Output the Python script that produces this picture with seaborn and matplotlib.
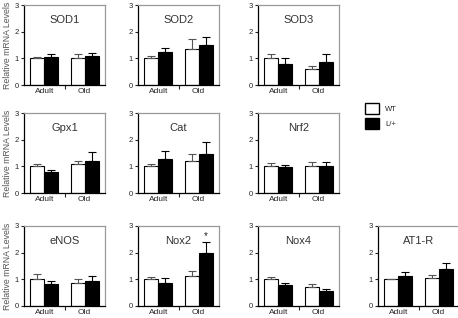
import matplotlib
matplotlib.use("Agg")
import matplotlib.pyplot as plt
import numpy as np
import pandas as pd
import seaborn as sns
from matplotlib.patches import Patch

sns.set_theme(style="white")
plt.rcParams["font.family"] = ["Liberation Sans", "DejaVu Sans"]

# ---- data ------------------------------------------------------------------
genes = ["SOD1", "SOD2", "SOD3", "Gpx1", "Cat", "Nrf2", "eNOS", "Nox2", "Nox4", "AT1-R"]
ages = ["Adult", "Old"]
genotypes = ["WT", "L/+"]

# mean per gene: [WT adult, L/+ adult, WT old, L/+ old]
means = {
    "SOD1": [1.00, 1.05, 1.00, 1.07],
    "SOD2": [1.00, 1.22, 1.35, 1.50],
    "SOD3": [1.00, 0.80, 0.60, 0.85],
    "Gpx1": [1.00, 0.77, 1.07, 1.20],
    "Cat": [1.00, 1.27, 1.20, 1.48],
    "Nrf2": [1.00, 0.98, 1.02, 1.02],
    "eNOS": [1.00, 0.82, 0.87, 0.95],
    "Nox2": [1.00, 0.88, 1.12, 2.00],
    "Nox4": [1.00, 0.77, 0.70, 0.58],
    "AT1-R": [1.00, 1.13, 1.05, 1.38],
}
errs = {
    "SOD1": [0.05, 0.12, 0.15, 0.12],
    "SOD2": [0.10, 0.18, 0.37, 0.30],
    "SOD3": [0.15, 0.20, 0.12, 0.32],
    "Gpx1": [0.10, 0.10, 0.13, 0.32],
    "Cat": [0.10, 0.32, 0.27, 0.45],
    "Nrf2": [0.12, 0.06, 0.15, 0.13],
    "eNOS": [0.20, 0.12, 0.13, 0.17],
    "Nox2": [0.08, 0.17, 0.20, 0.40],
    "Nox4": [0.10, 0.08, 0.12, 0.05],
    "AT1-R": [0.03, 0.15, 0.13, 0.22],
}
significant = {"Nox2": [(1, "L/+")]}  # (age index, genotype)

# ---- layout (pixel boxes, figure is 458x318) ---------------------------------
W, H = 458, 318
row_tops = [5, 113, 226]
col_lefts = [24, 138, 258, 378]
panel_w, panel_h = 81, 80
placement = {
    "SOD1": (0, 0), "SOD2": (0, 1), "SOD3": (0, 2),
    "Gpx1": (1, 0), "Cat": (1, 1), "Nrf2": (1, 2),
    "eNOS": (2, 0), "Nox2": (2, 1), "Nox4": (2, 2), "AT1-R": (2, 3),
}
palette = {"WT": "white", "L/+": "black"}

fig = plt.figure(figsize=(W / 100, H / 100), dpi=100)


def draw_panel(gene):
    r, c = placement[gene]
    ax = fig.add_axes([col_lefts[c] / W, (H - row_tops[r] - panel_h) / H,
                       panel_w / W, panel_h / H])
    df = pd.DataFrame({
        "age": [a for a in ages for _ in genotypes],
        "genotype": genotypes * len(ages),
        "value": means[gene],
        "err": errs[gene],
    })
    sns.barplot(data=df, x="age", y="value", hue="genotype", order=ages,
                hue_order=genotypes, palette=palette, width=0.7, gap=0,
                edgecolor="black", linewidth=0.8, errorbar=None, legend=False, ax=ax)
    # one-sided error bars from the bar tops
    for patch_list, g in zip(ax.containers, genotypes):
        sub = df[df["genotype"] == g]
        xs = [p.get_x() + p.get_width() / 2 for p in patch_list]
        ax.errorbar(xs, sub["value"], yerr=[np.zeros(len(sub)), sub["err"]],
                    fmt="none", ecolor="#555555" if g == "WT" else "black",
                    elinewidth=0.8, capsize=3, capthick=0.8)
        for ai, gg in significant.get(gene, []):
            if gg == g:
                ax.text(xs[ai], sub["value"].iloc[ai] + sub["err"].iloc[ai] + 0.05, "*",
                        ha="center", va="bottom", fontsize=7)
    ax.set_xlim(-0.5, 1.5)
    ax.set_ylim(0, 3)
    ax.set_yticks([0, 1, 2, 3])
    ax.set_xticks([0, 1], ages)
    ax.set_xticks([0.5], minor=True)
    ax.tick_params(axis="x", which="major", length=0, labelsize=6, pad=2.5)
    ax.tick_params(axis="x", which="minor", length=3, width=0.8, direction="out", bottom=True)
    ax.tick_params(axis="y", length=2, width=0.8, direction="out", left=True, labelsize=5.5, pad=1.5)
    ax.set_xlabel("")
    for side in ["left", "bottom"]:
        ax.spines[side].set_color("black")
        ax.spines[side].set_linewidth(0.9)
    for side in ["top", "right"]:
        ax.spines[side].set_color("#999999")
        ax.spines[side].set_linewidth(0.9)
    ax.text(0.5, 2.45, gene, ha="center", va="center", fontsize=8, color="#333333")
    if c == 0:
        ax.set_ylabel("Relative mRNA Levels", fontsize=6.3, color="#555555", labelpad=2)
    else:
        ax.set_ylabel("")
    return ax


for gene in genes:
    draw_panel(gene)

handles = [Patch(facecolor=palette[g], edgecolor="black", linewidth=1.0) for g in genotypes]
fig.legend(handles, genotypes, loc="upper left", bbox_to_anchor=(362 / W, 1 - 100 / H),
           frameon=False, fontsize=5.5, handlelength=1.8, handleheight=1.8,
           labelspacing=0.6, handletextpad=0.8, borderaxespad=0)

fig.savefig("out.png", dpi=100)
